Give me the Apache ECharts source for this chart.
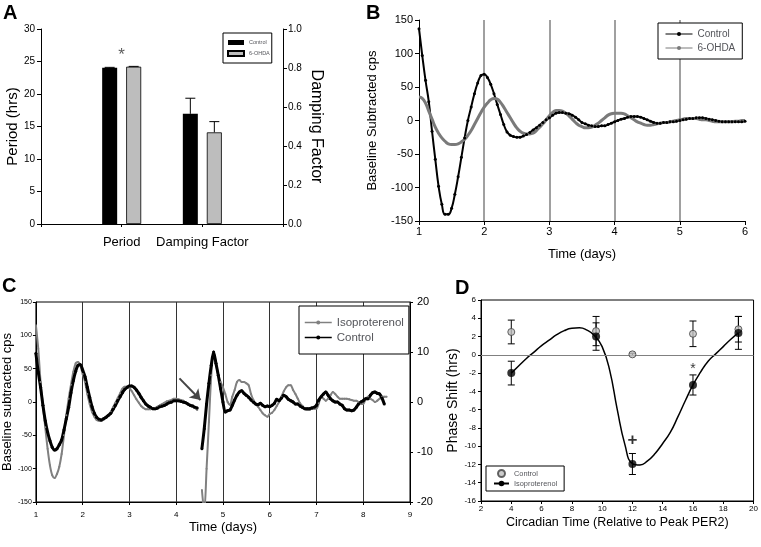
<!DOCTYPE html>
<html>
<head>
<meta charset="utf-8">
<script src="https://cdn.jsdelivr.net/npm/echarts@6.0.0/dist/echarts.min.js"></script>
</head>
<body style="margin:0">
<div id="main" style="width:761px;height:547px;"></div>
<script>
// ---- panel A : period / damping factor bars
var aCategories = ['', 'Period', 'Damping Factor', ''];
var aPeriod = [24.05, 24.2];          // Control, 6-OHDA (hrs)
var aPeriodErr = [0.05, 0.05];
var aDamping = [0.565, 0.47];         // Control, 6-OHDA
var aDampingErr = [0.08, 0.055];
var aStar = [[1, 26.0]];

// ---- panel B : baseline subtracted cps, 1..6 days, every 0.05 day
var bControl = [137,97,60,28,-16,-58,-98,-125,-140,-140,
  -131,-110,-84,-55,-26,0,20,40,56,67,
  69,64,54,40,24,9,-6,-17,-22,-24,
  -25,-25,-23,-21,-18,-14,-11,-7,-3,1,
  4,8,11,12,12,11,10,8,5,1,
  -3,-5,-7,-8,-9,-9,-8,-8,-6,-4,
  -2,0,2,3,5,6,6,6,5,3,
  1,-1,-3,-4,-4,-3,-3,-2,-2,-1,
  0,1,2,3,3,4,4,4,3,2,
  1,0,-1,-2,-2,-2,-2,-2,-2,-2,
  -1];
var bOhda = [35,33,26,14,2,-10,-19,-26,-31,-35,
  -36,-36,-35,-32,-28,-22,-15,-6,3,12,
  20,26,31,33,32,27,20,12,4,-4,
  -11,-16,-19,-20,-20,-19,-15,-10,-5,1,
  7,12,15,15,14,11,7,2,-3,-7,
  -9,-11,-11,-10,-7,-4,0,4,8,10,
  11,11,11,10,7,4,1,-2,-4,-6,
  -7,-7,-6,-5,-4,-3,-3,-2,-1,0,
  1,2,3,3,3,3,2,1,1,0,
  -1,-2,-2,-2,-2,-2,-2,-1,-1,0,
  0];

// ---- panel C : 1..8.5 days, every 0.05 day (null = break at treatment)
var cIso = [115,80,30,-5,-38,-70,-95,-110,-114,-108,
  -97,-78,-50,-20,5,26,45,58,60,55,
  42,30,12,-3,-15,-22,-27,-28,-28,-26,
  -23,-19,-15,-8,-1,6,13,20,23,23,
  21,16,10,4,-1,-6,-9,-11,-11,-11,
  -10,-9,-7,-5,-3,-1,1,2,3,5,
  5,4,3,2,-1,-3,-5,-7,-9,-12,
  null,-132,-165,-100,-30,40,75,58,40,30,
  22,12,0,-4,8,18,30,33,30,30,
  28,25,12,3,-3,-7,-12,-17,-20,-22,
  -18,-16,-12,-6,0,8,16,22,25,25,
  18,12,5,-2,-6,-10,-12,-12,-10,-10,
  -10,-2,8,5,2,5,10,15,12,8,
  5,5,5,5,4,3,2,2,0,-3,
  -3,4,8,5,3,0,2,5,8,8,
  8];
var cControl = [73,45,22,-5,-28,-45,-58,-68,-72,-70,
  -64,-57,-42,-25,-8,14,32,46,55,56,
  48,38,22,7,-7,-17,-23,-26,-27,-25,
  -23,-20,-17,-11,-5,2,8,14,19,22,
  24,24,22,18,13,7,2,-3,-6,-8,
  -10,-10,-9,-7,-6,-5,-3,-1,0,2,
  2,2,1,0,-1,-3,-5,-6,-8,-9,
  null,-70,-40,-3,28,55,75,58,40,20,
  0,-15,-13,-12,-5,3,10,15,17,13,
  10,7,3,0,-3,-4,-2,-5,-7,-6,
  -7,-5,-2,4,2,6,10,8,4,2,
  0,-3,-3,-6,-8,-10,-10,-10,-9,-8,
  -5,3,8,12,15,10,5,2,0,0,
  -3,-5,-10,-12,-12,-13,-12,-8,-3,0,
  2,5,5,10,14,15,13,12,6,-3,
  null];
var cArrow = [[4.07, 35.5], [4.52, 3]];

// ---- panel D : phase shift vs circadian time
var dCT = [4, 9.6, 12, 16, 19];
var dControl = [2.5, 2.6, 0.05, 2.3, 2.8];
var dControlErr = [1.3, 1.6, 0.12, 1.4, 1.4];
var dIso = [-2.0, 2.0, -11.95, -3.3, 2.4];
var dIsoErr = [1.3, 1.5, 1.15, 1.1, 1.8];
var dFit = [-2.0,-1.2,-0.4,0.3,1.0,1.6,2.2,2.65,2.9,2.95,2.7,2.1,0.9,-1.7,-6.0,-9.8,
  -11.9,-12.05,-11.6,-10.8,-9.7,-8.5,-6.8,-5.0,-3.3,-1.9,-0.7,0.1,0.9,1.7,2.4];
var dMarks = [[12, -9.4], [16, -1.55]];
var dMarkText = ['+', '*'];

var bTime = [], cTime = [], dFitCT = [];
for (var i = 0; i < bControl.length; i++) bTime.push(+(1 + i * 0.05).toFixed(2));
for (var j = 0; j < cControl.length; j++) cTime.push(+(1 + j * 0.05).toFixed(2));
for (var k = 0; k < dFit.length; k++) dFitCT.push(4 + k * 0.5);

function pairs(xs, ys) { return xs.map(function (x, i) { return [x, ys[i]]; }); }

var FONT = 'Liberation Sans, Arial, sans-serif';
var black = { color: '#000' };

function legendName(n) { return n.split('|')[0]; }

function errBars(xi, yi, xs, vals, errs, offset, cap, upOnly) {
  return {
    type: 'custom', xAxisIndex: xi, yAxisIndex: yi, silent: true, z: 4,
    data: xs.map(function (x, i) { return [x, vals[i], errs[i]]; }),
    renderItem: function (params, api) {
      var x = api.value(0), v = api.value(1), e = api.value(2);
      var top = api.coord([x, v + e]);
      var bot = api.coord([x, upOnly ? v : v - e]);
      var cx = top[0] + offset;
      var st = { stroke: '#000', lineWidth: 1 };
      var kids = [
        { type: 'line', shape: { x1: cx, y1: bot[1], x2: cx, y2: top[1] }, style: st },
        { type: 'line', shape: { x1: cx - cap, y1: top[1], x2: cx + cap, y2: top[1] }, style: st }
      ];
      if (!upOnly) kids.push({ type: 'line', shape: { x1: cx - cap, y1: bot[1], x2: cx + cap, y2: bot[1] }, style: st });
      return { type: 'group', children: kids };
    }
  };
}

function letter(txt, x, y) {
  return { type: 'text', left: x, top: y, style: { text: txt, font: 'bold 20px ' + FONT, fill: '#000' } };
}

var chart = echarts.init(document.getElementById('main'));

var option = {
  animation: false,
  textStyle: { fontFamily: FONT, color: '#000' },
  graphic: [letter('A', 3, 3), letter('B', 366, 3), letter('C', 2, 276), letter('D', 455, 278)],
  grid: [
    { left: 41, top: 29, width: 242, height: 195 },
    { left: 41, top: 29, width: 242, height: 195 },
    { left: 419, top: 20, width: 326, height: 201 },
    { left: 35, top: 302, width: 375, height: 200, show: true, borderColor: '#000', borderWidth: 1 },
    { left: 481, top: 300, width: 275, height: 201, show: true, borderColor: '#000', borderWidth: 1 }
  ],
  legend: [
    { data: ['Control|A', '6-OHDA|A'], formatter: legendName, orient: 'vertical', left: 223, top: 33,
      icon: 'rect', itemWidth: 16, itemHeight: 5, itemGap: 4, padding: [6, 2, 6, 4],
      borderColor: '#000', borderWidth: 1, backgroundColor: '#fff',
      textStyle: { fontSize: 5.5, lineHeight: 7 } },
    { data: ['Control|B', '6-OHDA|B'], formatter: legendName, orient: 'vertical', left: 658, top: 23,
      itemWidth: 27, itemHeight: 5, itemGap: 2, padding: [5, 7],
      lineStyle: { width: 1 },
      borderColor: '#000', borderWidth: 1, backgroundColor: '#fff',
      textStyle: { fontSize: 10, lineHeight: 12 } },
    { data: ['Isoproterenol|C', 'Control|C'], formatter: legendName, orient: 'vertical', left: 299, top: 306,
      itemWidth: 27, itemHeight: 5, itemGap: 0, padding: [9, 5],
      lineStyle: { width: 1.5 },
      borderColor: '#000', borderWidth: 1, backgroundColor: '#fff',
      textStyle: { fontSize: 11.5, lineHeight: 15 } },
    { data: ['Control|D', 'Isoproterenol|D'], formatter: legendName, orient: 'vertical', left: 486, top: 466,
      itemWidth: 15, itemHeight: 7, itemGap: 1, padding: [3, 7],
      borderColor: '#000', borderWidth: 1, backgroundColor: '#fff',
      textStyle: { fontSize: 7.4, lineHeight: 9 } }
  ],
  xAxis: [
    { gridIndex: 0, type: 'category', data: aCategories, boundaryGap: false,
      axisLine: { lineStyle: black }, axisTick: { length: 3, lineStyle: black },
      axisLabel: { interval: 0, fontSize: 13, margin: 12, color: '#000' } },
    { gridIndex: 1, type: 'category', data: aCategories, boundaryGap: false, show: false },
    { gridIndex: 2, type: 'value', min: 1, max: 6, interval: 1,
      axisLine: { onZero: false, lineStyle: black }, axisTick: { length: 4, lineStyle: black },
      axisLabel: { fontSize: 11, margin: 5, color: '#000' },
      splitLine: { show: true, showMinLine: false, showMaxLine: false, lineStyle: { color: '#808080', width: 1.5 } },
      name: 'Time (days)', nameLocation: 'middle', nameGap: 27, nameTextStyle: { fontSize: 13 } },
    { gridIndex: 3, type: 'value', min: 1, max: 9, interval: 1,
      axisLine: { onZero: false, lineStyle: black }, axisTick: { length: 3, lineStyle: black },
      axisLabel: { fontSize: 8, margin: 9, color: '#000' },
      splitLine: { show: true, lineStyle: { color: '#333', width: 1 } },
      name: 'Time (days)', nameLocation: 'middle', nameGap: 19, nameTextStyle: { fontSize: 13 } },
    { gridIndex: 4, type: 'value', min: 2, max: 20, interval: 2,
      axisLine: { onZero: false, lineStyle: black }, axisTick: { length: 3, lineStyle: black },
      axisLabel: { fontSize: 8, margin: 4, color: '#000' },
      splitLine: { show: false },
      name: 'Circadian Time (Relative to Peak PER2)', nameLocation: 'middle', nameGap: 15,
      nameTextStyle: { fontSize: 12.5 } }
  ],
  yAxis: [
    { gridIndex: 0, type: 'value', min: 0, max: 30, interval: 5, position: 'left',
      axisLine: { show: true, lineStyle: black }, axisTick: { show: true, length: 4, lineStyle: black },
      axisLabel: { fontSize: 10, margin: 6, color: '#000' }, splitLine: { show: false },
      name: 'Period (hrs)', nameLocation: 'middle', nameGap: 17, nameTextStyle: { fontSize: 15 } },
    { gridIndex: 1, type: 'value', min: 0, max: 1, interval: 0.2, position: 'right',
      axisLine: { show: true, lineStyle: black }, axisTick: { show: true, length: 4, lineStyle: black },
      axisLabel: { fontSize: 10, margin: 5, color: '#000', formatter: function (v) { return v.toFixed(1); } },
      splitLine: { show: false },
      name: 'Damping Factor', nameLocation: 'middle', nameRotate: -90, nameGap: 25, nameTextStyle: { fontSize: 16 } },
    { gridIndex: 2, type: 'value', min: -150, max: 150, interval: 50,
      axisLine: { show: true, lineStyle: black }, axisTick: { show: true, length: 4, lineStyle: black },
      axisLabel: { fontSize: 11, margin: 6, color: '#000' }, splitLine: { show: false },
      name: 'Baseline Subtracted cps', nameLocation: 'middle', nameGap: 40, nameTextStyle: { fontSize: 13 } },
    { gridIndex: 3, type: 'value', min: -150, max: 150, interval: 50, position: 'left',
      axisLine: { show: true, lineStyle: black }, axisTick: { show: true, length: 3, lineStyle: black },
      axisLabel: { fontSize: 7, margin: 4, color: '#000' }, splitLine: { show: false },
      name: 'Baseline subtracted cps', nameLocation: 'middle', nameGap: 20, nameTextStyle: { fontSize: 13 } },
    { gridIndex: 3, type: 'value', min: -20, max: 20, interval: 10, position: 'right',
      axisLine: { show: true, lineStyle: black }, axisTick: { show: true, length: 3, lineStyle: black },
      axisLabel: { fontSize: 11, margin: 7, color: '#000' }, splitLine: { show: false } },
    { gridIndex: 4, type: 'value', min: -16, max: 6, interval: 2,
      axisLine: { show: true, lineStyle: black }, axisTick: { show: true, length: 3, lineStyle: black },
      axisLabel: { fontSize: 8, margin: 5, color: '#000' }, splitLine: { show: false },
      name: 'Phase Shift (hrs)', nameLocation: 'middle', nameGap: 17, nameTextStyle: { fontSize: 14 } }
  ],
  series: [
    // A
    { type: 'bar', name: 'Control|A', xAxisIndex: 0, yAxisIndex: 0, barWidth: 15, barGap: '60%',
      data: [null, aPeriod[0], null, null], itemStyle: { color: '#000' } },
    { type: 'bar', name: '6-OHDA|A', xAxisIndex: 0, yAxisIndex: 0, barWidth: 15, barGap: '60%',
      data: [null, aPeriod[1], null, null], itemStyle: { color: '#bdbdbd', borderColor: '#000', borderWidth: 0.8 } },
    { type: 'bar', name: 'Control|A2', xAxisIndex: 1, yAxisIndex: 1, barWidth: 15, barGap: '60%',
      data: [null, null, aDamping[0], null], itemStyle: { color: '#000' } },
    { type: 'bar', name: '6-OHDA|A2', xAxisIndex: 1, yAxisIndex: 1, barWidth: 15, barGap: '60%',
      data: [null, null, aDamping[1], null], itemStyle: { color: '#bdbdbd', borderColor: '#000', borderWidth: 0.8 } },
    errBars(0, 0, [1], [aPeriod[0]], [aPeriodErr[0]], -12, 5, true),
    errBars(0, 0, [1], [aPeriod[1]], [aPeriodErr[1]], 12, 5, true),
    errBars(1, 1, [2], [aDamping[0]], [aDampingErr[0]], -12, 5, true),
    errBars(1, 1, [2], [aDamping[1]], [aDampingErr[1]], 12, 5, true),
    { type: 'scatter', xAxisIndex: 0, yAxisIndex: 0, data: aStar, symbolSize: 1, silent: true,
      itemStyle: { color: 'transparent' },
      label: { show: true, position: 'inside', formatter: '*', fontSize: 17, color: '#333' } },
    // B
    { type: 'line', name: 'Control|B', xAxisIndex: 2, yAxisIndex: 2, data: pairs(bTime, bControl),
      smooth: true, symbol: 'circle', symbolSize: 3, showAllSymbol: true,
      lineStyle: { color: '#000', width: 2 }, itemStyle: { color: '#000' } },
    { type: 'line', name: '6-OHDA|B', xAxisIndex: 2, yAxisIndex: 2, data: pairs(bTime, bOhda),
      smooth: true, symbol: 'none',
      lineStyle: { color: '#7a7a7a', width: 3 }, itemStyle: { color: '#7a7a7a' } },
    // C
    { type: 'line', name: 'Isoproterenol|C', xAxisIndex: 3, yAxisIndex: 3, data: pairs(cTime, cIso),
      smooth: 0.3, symbol: 'circle', symbolSize: 2, showAllSymbol: true,
      lineStyle: { color: '#808080', width: 2 }, itemStyle: { color: '#808080' } },
    { type: 'line', name: 'Control|C', xAxisIndex: 3, yAxisIndex: 3, data: pairs(cTime, cControl),
      smooth: 0.3, symbol: 'circle', symbolSize: 3, showAllSymbol: true,
      lineStyle: { color: '#000', width: 3 }, itemStyle: { color: '#000' },
      markLine: { silent: true, symbol: ['none', 'arrow'], symbolSize: 10, label: { show: false },
        lineStyle: { color: '#444', width: 2, type: 'solid' },
        data: [[{ coord: cArrow[0], symbol: 'none' }, { coord: cArrow[1], symbol: 'arrow', symbolSize: 10 }]] } },
    // D
    { type: 'line', name: 'Isoproterenol|D', xAxisIndex: 4, yAxisIndex: 5, data: pairs(dFitCT, dFit),
      smooth: true, symbol: 'none', lineStyle: { color: '#000', width: 1.5 }, itemStyle: { color: '#000' },
      markLine: { silent: true, symbol: ['none', 'none'], label: { show: false },
        lineStyle: { color: '#808080', width: 1, type: 'solid' }, data: [{ yAxis: 0 }] } },
    errBars(4, 5, dCT, dControl, dControlErr, 0, 3.5, false),
    errBars(4, 5, dCT, dIso, dIsoErr, 0, 3.5, false),
    { type: 'scatter', name: 'Control|D', xAxisIndex: 4, yAxisIndex: 5, data: pairs(dCT, dControl), z: 6,
      symbol: 'circle', symbolSize: 7, itemStyle: { color: '#bfbfbf', borderColor: '#404040', borderWidth: 1 } },
    { type: 'scatter', name: 'IsoPts|D', xAxisIndex: 4, yAxisIndex: 5, data: pairs(dCT, dIso), z: 6,
      symbol: 'circle', symbolSize: 8, itemStyle: { color: '#000' } },
    { type: 'scatter', xAxisIndex: 4, yAxisIndex: 5, symbolSize: 1, silent: true, z: 7,
      itemStyle: { color: 'transparent' },
      data: dMarks.map(function (m, i) {
        return { value: m, label: { formatter: dMarkText[i], fontSize: i === 0 ? 17 : 14, fontWeight: i === 0 ? 'bold' : 'normal' } };
      }),
      label: { show: true, position: 'inside', color: '#000' } }
  ]
};

chart.setOption(option);
</script>
</body>
</html>
